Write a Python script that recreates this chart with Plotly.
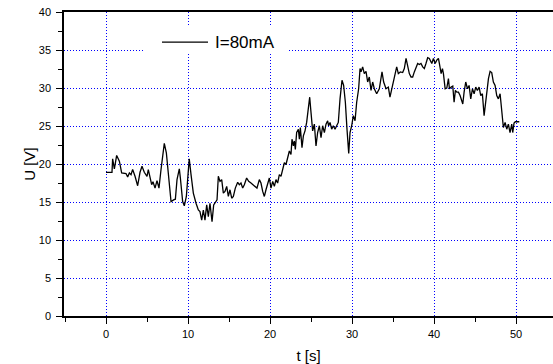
import plotly.graph_objects as go

# time [s]
t = [0, 0.73, 0.81, 1.02, 1.3, 1.63, 1.91, 2.44, 2.64, 2.85, 3.05, 3.25, 3.54, 3.86, 4.15, 4.39, 4.67,
     5.0, 5.16, 5.4, 5.57, 5.73, 5.98, 6.22, 6.46, 6.71, 6.91, 7.11, 7.36, 7.6, 7.93, 8.25, 8.46, 8.66,
     8.94, 9.07, 9.35, 9.55, 9.8,
     9.96, 10.15, 10.37, 10.65, 10.98, 11.26, 11.46, 11.67, 11.87, 12.07, 12.28, 12.48, 12.68, 12.93,
     13.13, 13.29, 13.54, 13.7, 13.9, 14.11, 14.31, 14.51, 14.72, 14.92, 15.12, 15.33, 15.53, 15.77,
     16.06, 16.26, 16.46, 16.67, 16.87, 17.15, 17.4, 17.68, 17.89, 18.21, 18.41, 18.7, 18.9, 19.11,
     19.31, 19.51,
     19.72, 19.92, 20.12, 20.33, 20.53, 20.73, 20.93, 21.14, 21.34, 21.54, 21.75, 21.95, 22.15, 22.36,
     22.56, 22.68, 22.85, 22.97, 23.09, 23.25, 23.46, 23.58, 23.7, 23.9, 24.07, 24.27, 24.47, 24.67,
     24.84, 25.0, 25.2, 25.41, 25.61, 25.81, 26.02, 26.22, 26.42, 26.63, 26.83, 27.03, 27.15, 27.32,
     27.52, 27.72, 27.93, 28.13, 28.33, 28.54, 28.78, 28.98, 29.19, 29.39, 29.6,
     29.76, 29.96, 30.16, 30.37, 30.57, 30.69, 30.81, 30.98, 31.1, 31.3, 31.5, 31.71, 31.91, 32.11,
     32.32, 32.52, 32.72, 33.01, 33.33, 33.66, 33.86, 34.15, 34.43, 34.63, 34.88, 35.08, 35.28, 35.45,
     35.65, 35.89, 36.18, 36.38, 36.59, 36.79, 36.99, 37.2, 37.4, 37.6, 37.8, 38.01, 38.21, 38.41,
     38.62, 38.82, 39.02, 39.23, 39.43,
     39.53, 39.73, 39.93, 40.14, 40.34, 40.54, 40.66, 40.87, 41.03, 41.15, 41.36, 41.56, 41.76, 41.88,
     42.09, 42.29, 42.45, 42.61, 42.78, 42.98, 43.18, 43.39, 43.51, 43.67, 43.87, 44.08, 44.28, 44.48,
     44.69, 44.89, 45.09, 45.29, 45.5, 45.7, 45.9, 46.11, 46.23, 46.43, 46.64, 46.84, 47.04, 47.24,
     47.45, 47.65, 47.85, 48.06, 48.18, 48.3, 48.46, 48.67, 48.87, 49.07, 49.27, 49.48, 49.6, 49.76,
     49.92, 50.4]

# voltage [V]
u = [18.91, 18.91, 20.69, 19.36, 21.13, 20.38, 18.83, 18.74, 18.29, 18.83, 18.6, 19.27, 18.38, 17.14,
     18.91, 19.71, 18.91, 18.38, 19.27, 17.94, 17.28, 17.67, 16.83, 17.81, 16.83, 19.27, 21.48, 22.72,
     21.48, 18.38, 15.06, 15.28, 15.37, 17.94, 19.36, 18.16, 15.06, 14.49, 15.73,
     18.0, 20.69, 18.6, 16.17, 14.84, 13.95, 13.73, 12.62, 13.95, 12.62, 14.62, 13.07, 14.84, 12.40,
     14.62, 14.93, 15.28, 18.38, 17.72, 17.94, 16.17, 16.39, 17.05, 15.73, 16.61, 15.5, 15.73, 16.83,
     17.59, 17.28, 17.5, 16.83, 17.28, 18.16, 17.72, 17.5, 17.28, 16.97, 16.83, 17.94, 17.5, 16.39,
     15.73, 16.61,
     17.5, 18.16, 16.83, 17.72, 17.05, 17.94, 17.5, 18.6, 18.38, 19.49, 20.16, 19.93, 21.04, 21.71,
     21.26, 23.26, 22.37, 23.03, 21.93, 24.14, 24.58, 23.26, 24.81, 22.15, 23.7, 24.36, 25.47, 27.02,
     28.79, 26.8, 24.36, 25.25, 22.37, 24.14, 25.03, 23.48, 25.03, 24.14, 25.25, 25.69, 25.03, 25.47,
     24.58, 25.03, 24.58, 25.03, 25.47, 28.57, 31.01, 30.34, 28.13, 24.58, 21.4,
     24.14, 25.03, 26.36, 25.69, 28.13, 29.01, 29.9, 32.56, 32.12, 32.78, 31.89, 32.2, 30.79, 31.45,
     29.68, 30.79, 29.9, 29.24, 29.9, 32.12, 30.79, 29.9, 30.12, 28.79, 29.99, 30.79, 32.12, 32.78,
     31.89, 32.12, 32.03, 32.56, 33.89, 32.78, 31.89, 31.45, 31.45, 32.12, 32.56, 33.22, 33.09, 33.22,
     32.78, 32.56, 33.22, 33.98, 33.89,
     33.67, 33.22, 33.89, 33.22, 33.67, 33.89, 33.22, 31.89, 32.56, 31.89, 29.9, 29.99, 31.23, 29.9,
     30.12, 30.25, 28.13, 29.68, 29.46, 29.46, 29.01, 28.35, 27.9, 29.46, 30.79, 29.9, 30.34, 28.57,
     29.9, 29.24, 30.12, 29.68, 30.12, 29.01, 29.24, 26.36, 27.69, 29.46, 31.23, 32.2, 32.03, 30.79,
     30.34, 29.01, 28.57, 29.24, 28.13, 26.36, 24.81, 25.47, 24.58, 25.25, 24.14, 25.25, 24.14, 25.38,
     25.56, 25.56]

series_name = "I=80mA"
x_title = "t [s]"
y_title = "U [V]"

FONT = "Arial, Liberation Sans, sans-serif"

fig = go.Figure()
fig.add_trace(go.Scatter(x=t, y=u, mode="lines", name=series_name, showlegend=False,
                         line=dict(color="black", width=1.3)))

axis_common = dict(
    showline=True, linecolor="black", linewidth=1.5,
    ticks="outside", tickcolor="black", ticklen=6, tickwidth=1,
    showgrid=True, gridcolor="#0000ff", gridwidth=1, griddash="1px,2px",
    zeroline=False,
    tickfont=dict(family=FONT, size=11, color="black"),
)

fig.update_xaxes(range=[-5.122, 54.512], tick0=0, dtick=10, mirror=True,
                 minor=dict(dtick=5, tick0=0, ticklen=4, tickcolor="black", ticks="outside", showgrid=False),
                 title=dict(text=x_title, font=dict(family=FONT, size=15, color="black"), standoff=16),
                 ticklabelstandoff=1,
                 **axis_common)
fig.update_yaxes(range=[0, 40], tick0=0, dtick=5,
                 minor=dict(dtick=2.5, tick0=0, ticklen=4, tickcolor="black", ticks="outside", showgrid=False),
                 title=dict(text=y_title, font=dict(family=FONT, size=15, color="black"), standoff=0),
                 ticklabelstandoff=3,
                 **axis_common)

# legend box (drawn manually to match original)
fig.add_shape(type="rect", xref="paper", yref="paper", x0=0.1656, x1=0.460, y0=0.865, y1=0.951,
              fillcolor="white", line=dict(width=0), layer="above")
fig.add_shape(type="line", xref="paper", yref="paper", x0=0.2004, x1=0.2945, y0=0.901, y1=0.901,
              line=dict(color="black", width=1.2), layer="above")
fig.add_annotation(xref="paper", yref="paper", x=0.3047, y=0.901, xanchor="left", yanchor="middle",
                   text=series_name, showarrow=False, font=dict(family=FONT, size=17, color="black"))

fig.update_layout(
    width=553, height=364,
    margin=dict(l=64, r=0, t=12, b=48, autoexpand=False),
    paper_bgcolor="white", plot_bgcolor="white",
    showlegend=False,
)

fig.write_html("out.html")
